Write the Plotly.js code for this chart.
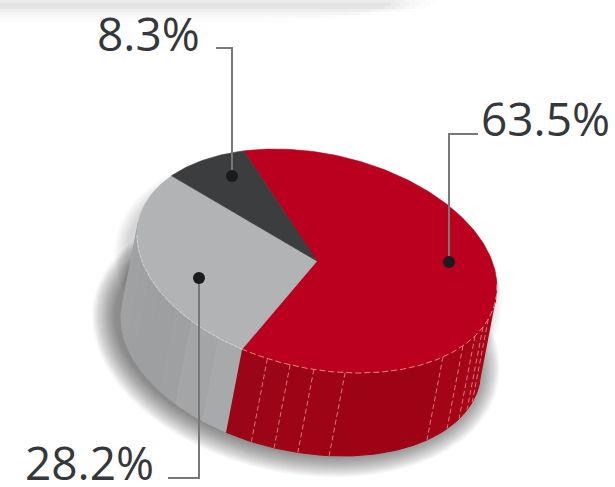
<!DOCTYPE html>
<html><head><meta charset="utf-8">
<script src="https://cdn.plot.ly/plotly-3.0.1.min.js"></script>
<style>html,body{margin:0;padding:0;background:#fff}#c{width:615px;height:487px}</style>
</head><body><div id="c"></div>
<script>
// ---- data ----
const shares = [63.5, 28.2, 8.3];
const labels = ['63.5%', '28.2%', '8.3%'];
const topColors = ['#bb001f', '#b2b3b5', '#3c3d3f'];
// ---- drawing geometry ----
const cx = 317, cy = 261, rx = 180, ry = 112, skew = 13.4, startAngle = -114;
const depth = [-16, 83];
const rad = d => d * Math.PI / 180;
const px = (t, o) => cx + rx * Math.cos(rad(t)) + (o ? depth[0] : 0);
const py = (t, o) => cy + ry * Math.sin(rad(t + skew)) + (o ? depth[1] : 0);
const range = (a, b) => { const n = Math.max(2, Math.ceil(Math.abs(b - a))); return Array.from({length: n + 1}, (_, i) => a + (b - a) * i / n); };

const spans = []; let acc = startAngle;
shares.forEach(v => { const s = v / 100 * 360; spans.push([acc, acc + s]); acc += s; });

const traces = [];
const poly = (xs, ys, color, lw) => traces.push({type: 'scatter', mode: 'lines', x: xs, y: ys, fill: 'toself', fillcolor: color,
  line: {color: lw ? color : 'rgba(0,0,0,0)', width: lw || 0}, hoverinfo: 'skip', showlegend: false});

// soft drop shadow: stacked translucent ellipses, offset to lower-left
const tangentR = 6.7, tangentL = 186.7;
const full = range(0, 360);
for (let g = 24; g > 0; g--) {
  poly(full.map(t => px(t, 1) - 5 + g * Math.cos(rad(t))),
       full.map(t => py(t, 1) - 2 + g * Math.sin(rad(t))), 'rgba(50,50,52,0.026)');
  if (g <= 14) poly(full.map(t => px(t, 0) - 9 + g * Math.cos(rad(t))),
       full.map(t => py(t, 0) + 18 + g * Math.sin(rad(t))), 'rgba(50,50,52,0.016)');
}

// side wall helper
const wall = (a, b, color) => {
  const top = range(a, b), bot = range(b, a);
  poly(top.map(t => px(t, 0)).concat(bot.map(t => px(t, 1))),
       top.map(t => py(t, 0)).concat(bot.map(t => py(t, 1))), color, 1);
};
// red wall, cut in panels by the stripes
const redStripes = [18, 22.8, 28.6, 35.8, 45.6, 81, 91, 98.6, 106];
const redTones = ['#a8051a', '#a80519', '#a70518', '#a60417', '#a30416', '#9d0314', '#9e0415', '#9d0416', '#9c0417', '#9a0518'];
const redEdges = [tangentR].concat(redStripes, [spans[0][1]]);
redTones.forEach((c, i) => wall(redEdges[i], redEdges[i + 1], c));
// grey wall
const greyEdges = [spans[0][1], 123, 134, 142, 150, 158, 166, 176, tangentL];
const greyTones = ['#a8a9ab', '#a4a5a7', '#9fa0a2', '#9e9fa1', '#9e9fa1', '#9fa0a2', '#a0a1a3', '#a1a2a4'];
greyTones.forEach((c, i) => wall(greyEdges[i], greyEdges[i + 1], c));

// top slices
spans.forEach(([a, b], i) => {
  const ts = range(a, b);
  poly([cx].concat(ts.map(t => px(t, 0)), [cx]), [cy].concat(ts.map(t => py(t, 0)), [cy]), topColors[i], 0.6);
});

// pale seams
const seam = (xs, ys, color, dash, w) => traces.push({type: 'scatter', mode: 'lines', x: xs, y: ys,
  line: {color, width: w || 1, dash}, hoverinfo: 'skip', showlegend: false});
redStripes.forEach(t => seam([px(t, 0), px(t, 1)], [py(t, 0), py(t, 1)], 'rgba(235,170,150,0.7)', '5px,3px'));
[123, 134].forEach(t => seam([px(t, 0), px(t, 1)], [py(t, 0), py(t, 1)], 'rgba(190,190,192,0.25)', 'solid'));
const rimR = range(tangentR - 8, spans[0][1]);
seam(rimR.map(t => px(t, 0)), rimR.map(t => py(t, 0)), 'rgba(235,170,150,0.8)', '6px,3px');
const rimG = range(spans[0][1], 180);
seam(rimG.map(t => px(t, 0)), rimG.map(t => py(t, 0)), 'rgba(225,225,227,0.7)', '4px,1px');

// leader lines
const leaderColor = '#77787a';
seam([449, 449, 478], [262, 134, 134], leaderColor, 'solid', 2);
seam([199, 199, 168], [278, 478, 478], leaderColor, 'solid', 2);
seam([232, 232, 216], [176, 48, 48], leaderColor, 'solid', 2);
traces.push({type: 'scatter', mode: 'markers', x: [449, 199, 232], y: [262, 278, 176],
  marker: {color: '#1b1b1d', size: 12}, hoverinfo: 'skip', showlegend: false});

// top fade band
const band = [];
[[0, 3, 0.08, 395], [3, 6, 0.105, 390], [6, 9, 0.105, 385], [9, 12, 0.065, 370], [12, 15, 0.04, 350], [15, 18, 0.022, 320], [18, 22, 0.012, 270]]
  .forEach(([y0, y1, o, xe]) => {
    [[0, xe, 1], [xe, xe + 10, 0.75], [xe + 10, xe + 20, 0.5], [xe + 20, xe + 30, 0.3], [xe + 30, xe + 40, 0.12]].forEach(([a, b, k]) => {
      band.push({type: 'rect', layer: 'below', xref: 'x', yref: 'y', x0: a, x1: b, y0, y1, fillcolor: `rgba(0,0,0,${o * k})`, line: {width: 0}});
    });
  });

const label = (text, x, y) => ({text, x, y, xref: 'x', yref: 'y', showarrow: false, xanchor: 'center', yanchor: 'middle',
  font: {family: '"Open Sans", sans-serif', size: 46, color: '#36373a'}});

Plotly.newPlot('c', traces, {
  width: 615, height: 487, margin: {l: 0, r: 0, t: 0, b: 0}, paper_bgcolor: '#fff', plot_bgcolor: '#fff', showlegend: false,
  xaxis: {range: [0, 615], visible: false, fixedrange: true},
  yaxis: {range: [487, 0], visible: false, fixedrange: true},
  shapes: band,
  annotations: [label(labels[0], 545, 118), label(labels[1], 89, 462), label(labels[2], 148, 33)]
}, {staticPlot: true, displayModeBar: false});
</script></body></html>
